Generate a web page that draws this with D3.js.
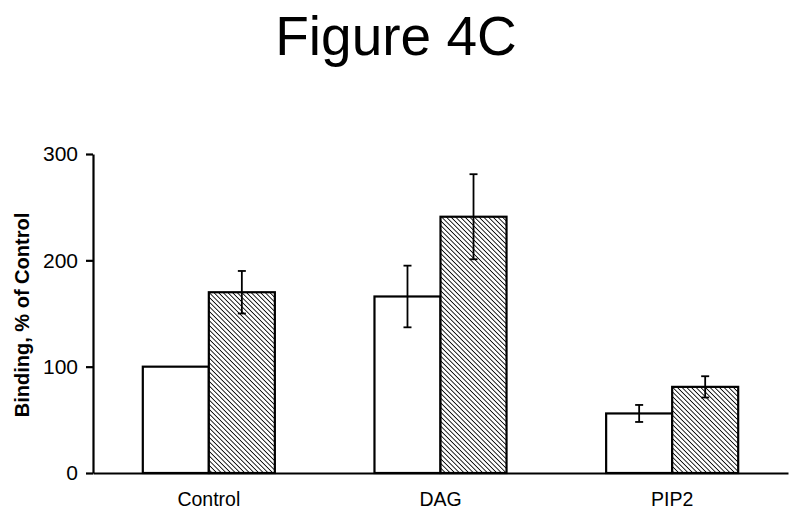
<!DOCTYPE html>
<html><head><meta charset="utf-8">
<script src="https://cdn.jsdelivr.net/npm/d3@7"></script>
<style>body{margin:0;background:#fff}</style>
</head><body><svg id="c" width="800" height="522"></svg>
<script>
const categories = ["Control", "DAG", "PIP2"];
const series = ["Open", "Hatched"];
const openValues = [100, 166, 56];
const openErrors = [0, 29, 8];
const hatchedValues = [170, 241, 81];
const hatchedErrors = [20, 40, 10];
const yTicks = [0, 100, 200, 300];

(function(){
const svg = d3.select("#c");
const font = "Arial, 'Liberation Sans', sans-serif";
const mLeft = 93, mRight = 788, mTop = 154, mBottom = 473;

const defs = svg.append("defs");
const pat = defs.append("pattern").attr("id","hatch").attr("patternUnits","userSpaceOnUse")
  .attr("width",3.3).attr("height",3.3).attr("patternTransform","rotate(-45)");
pat.append("rect").attr("width",3.3).attr("height",3.3).attr("fill","#fff");
pat.append("line").attr("x1",0).attr("y1",0).attr("x2",0).attr("y2",3.3)
  .attr("stroke","#000").attr("stroke-width",1.7);

const x0 = d3.scaleBand().domain(categories).range([mLeft,mRight]).padding(0);
const x1 = d3.scaleBand().domain(series).range([x0.bandwidth()*0.215, x0.bandwidth()*0.785]).padding(0);
const y = d3.scaleLinear().domain([0,300]).range([mBottom,mTop]);

const data = [];
categories.forEach((c,i)=>{
  data.push({c, s:"Open", v:openValues[i], e:openErrors[i]});
  data.push({c, s:"Hatched", v:hatchedValues[i], e:hatchedErrors[i]});
});

svg.append("text").attr("x",396).attr("y",55).attr("text-anchor","middle")
  .attr("font-family",font).attr("font-size",55).text("Figure 4C");

const g = svg.append("g");
g.selectAll("rect.bar").data(data).join("rect").attr("class","bar")
  .attr("x",d=>x0(d.c)+x1(d.s)).attr("width",x1.bandwidth())
  .attr("y",d=>y(d.v)).attr("height",d=>y(0)-y(d.v))
  .attr("fill",d=>d.s==="Open"?"#fff":"url(#hatch)")
  .attr("stroke","#000").attr("stroke-width",2.2);

const eb = g.selectAll("g.err").data(data.filter(d=>d.e>0)).join("g").attr("class","err");
const cx = d=>x0(d.c)+x1(d.s)+x1.bandwidth()/2;
eb.append("line").attr("x1",cx).attr("x2",cx).attr("y1",d=>y(d.v+d.e)).attr("y2",d=>y(d.v-d.e))
  .attr("stroke","#000").attr("stroke-width",1.8);
eb.append("line").attr("x1",d=>cx(d)-4).attr("x2",d=>cx(d)+4).attr("y1",d=>y(d.v+d.e)).attr("y2",d=>y(d.v+d.e))
  .attr("stroke","#000").attr("stroke-width",1.8);
eb.append("line").attr("x1",d=>cx(d)-4).attr("x2",d=>cx(d)+4).attr("y1",d=>y(d.v-d.e)).attr("y2",d=>y(d.v-d.e))
  .attr("stroke","#000").attr("stroke-width",1.8);

const ya = svg.append("g").attr("transform",`translate(${mLeft},0)`)
  .call(d3.axisLeft(y).tickValues(yTicks).tickSize(7).tickPadding(8).tickSizeOuter(0));
ya.select(".domain").attr("stroke-width",2.2).attr("stroke","#000");
ya.selectAll(".tick line").attr("stroke-width",2.2).attr("stroke","#000");
ya.selectAll(".tick text").attr("font-family",font).attr("font-size",21).attr("fill","#000");

const xa = svg.append("g").attr("transform",`translate(0,${mBottom})`)
  .call(d3.axisBottom(x0).tickSize(0).tickPadding(19).tickSizeOuter(0));
xa.select(".domain").attr("stroke-width",2.2).attr("stroke","#000");
xa.selectAll(".tick text").attr("font-family",font).attr("font-size",19.5).attr("fill","#000");

svg.append("text").attr("transform",`translate(29,315) rotate(-90)`)
  .attr("text-anchor","middle").attr("font-family",font).attr("font-weight","bold")
  .attr("font-size",20).text("Binding, % of Control");
})();
</script></body></html>
